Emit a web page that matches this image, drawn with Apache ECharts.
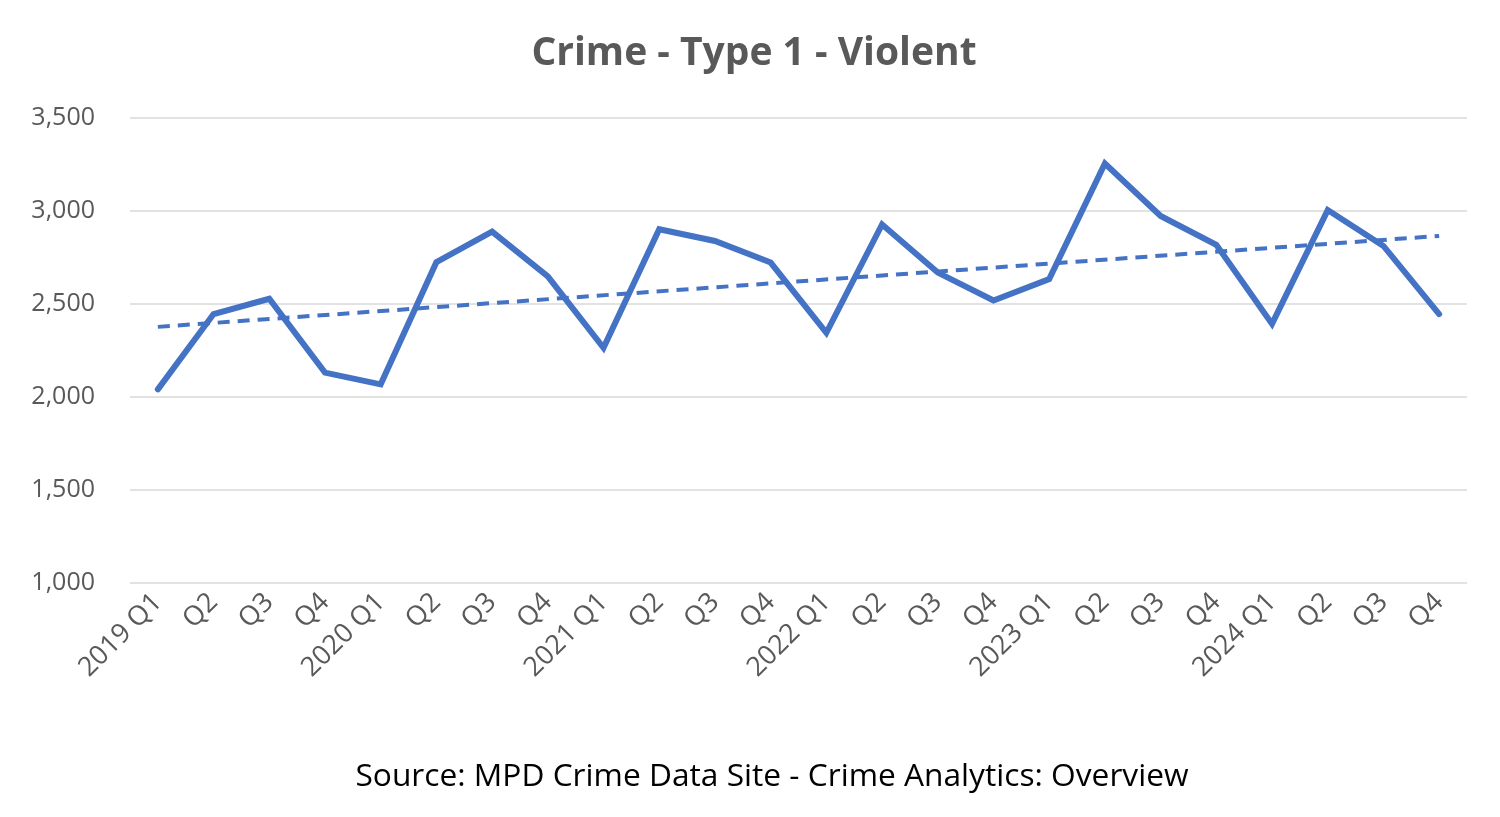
<!DOCTYPE html>
<html>
<head>
<meta charset="utf-8">
<title>Crime - Type 1 - Violent</title>
<script src="https://cdn.jsdelivr.net/npm/echarts@6/dist/echarts.min.js"></script>
<style>
  html, body { margin: 0; padding: 0; background: #fff; }
  #chart { width: 1500px; height: 817px; }
</style>
</head>
<body>
<div id="chart"></div>
<script>
const quarters = [
  "2019 Q1", "Q2", "Q3", "Q4",
  "2020 Q1", "Q2", "Q3", "Q4",
  "2021 Q1", "Q2", "Q3", "Q4",
  "2022 Q1", "Q2", "Q3", "Q4",
  "2023 Q1", "Q2", "Q3", "Q4",
  "2024 Q1", "Q2", "Q3", "Q4",
];
const violent = [
  2041, 2446, 2528, 2131,
  2068, 2725, 2889, 2648,
  2264, 2902, 2839, 2723,
  2345, 2928, 2669, 2519,
  2634, 3255, 2973, 2818,
  2393, 3005, 2812, 2446,
];
// linear trend, only the two ends
const trendStart = 2377;
const trendEnd = 2866;
const trend = quarters.map((q, i) =>
  i === 0 ? trendStart : i === quarters.length - 1 ? trendEnd : null
);

const font = "'Open Sans', 'Noto Sans', sans-serif";
const chart = echarts.init(document.getElementById("chart"));
chart.setOption({
  animation: false,
  title: [
    {
      text: "Crime - Type 1 - Violent",
      left: 749,
      textAlign: "center",
      top: 29,
      textStyle: { fontFamily: font, fontSize: 39, fontWeight: "bold", color: "#595959" },
    },
    {
      text: "Source: MPD Crime Data Site - Crime Analytics: Overview",
      left: 767,
      textAlign: "center",
      top: 756,
      textStyle: { fontFamily: font, fontSize: 31.7, fontWeight: "normal", color: "#000" },
    },
  ],
  grid: { left: 130, right: 33, top: 118, bottom: 234 },
  xAxis: {
    type: "category",
    data: quarters,
    boundaryGap: true,
    axisLine: { show: false },
    axisTick: { show: false },
    axisLabel: {
      rotate: 45,
      interval: 0,
      margin: 15,
      fontFamily: font,
      fontSize: 27,
      color: "#595959",
    },
  },
  yAxis: {
    type: "value",
    min: 1000,
    max: 3500,
    interval: 500,
    axisLine: { show: false },
    axisTick: { show: false },
    axisLabel: {
      margin: 35,
      fontFamily: font,
      fontSize: 25,
      color: "#595959",
      formatter: (v) => v.toLocaleString("en-US"),
    },
    splitLine: { lineStyle: { color: "#d9d9d9", width: 1.5 } },
  },
  series: [
    {
      name: "Violent",
      type: "line",
      data: violent,
      symbol: "none",
      lineStyle: { color: "#4472C4", width: 6, cap: "round", join: "miter" },
    },
    {
      name: "Trend",
      type: "line",
      data: trend,
      connectNulls: true,
      symbol: "none",
      lineStyle: { color: "#4472C4", width: 4, type: [12, 8] },
    },
  ],
});
</script>
</body>
</html>
